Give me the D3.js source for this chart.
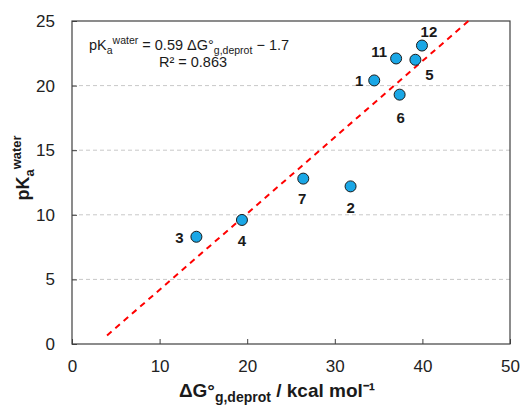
<!DOCTYPE html>
<html><head><meta charset="utf-8">
<script src="https://cdn.jsdelivr.net/npm/d3@7"></script>
<style>body{margin:0;background:#fff}svg{font-family:"Liberation Sans",Arial,sans-serif}</style>
</head><body><svg id="c" width="523" height="405"></svg>
<script>
const labels = ["1","2","3","4","5","6","7","11","12"];
const dG = [34.5, 31.8, 14.2, 19.4, 39.2, 37.4, 26.4, 37.0, 39.95];
const pKa = [20.4, 12.2, 8.3, 9.6, 22.0, 19.3, 12.8, 22.1, 23.1];
const xTicks = [0,10,20,30,40,50];
const yTicks = [0,5,10,15,20,25];
const fitSlope = 0.59, fitIntercept = -1.7, fitX = [4, 45.25];

const svg = d3.select("#c");
const L=72, R=510, T=21, B=344;
const x = d3.scaleLinear().domain([0,50]).range([L,R]);
const y = d3.scaleLinear().domain([0,25]).range([B,T]);

// grid
svg.append("g").selectAll("line").data(yTicks.filter(v=>v>0&&v<25)).join("line")
  .attr("x1",L).attr("x2",R).attr("y1",d=>y(d)).attr("y2",d=>y(d))
  .attr("stroke","#c8c8c8").attr("stroke-width",1).attr("stroke-dasharray","4,3");

// axes
const xa = svg.append("g").attr("transform",`translate(0,${B})`)
  .call(d3.axisBottom(x).tickValues(xTicks).tickSize(-5).tickPadding(16));
const ya = svg.append("g").attr("transform",`translate(${L},0)`)
  .call(d3.axisLeft(y).tickValues(yTicks).tickSize(-5).tickPadding(17));
[xa,ya].forEach(a=>{
  a.select(".domain").remove();
  a.selectAll("line").attr("stroke","#404040");
  a.selectAll("text").attr("font-size",17).attr("fill","#222").attr("font-family","Liberation Sans, Arial, sans-serif");
});
// frame
svg.append("rect").attr("x",L).attr("y",T).attr("width",R-L).attr("height",B-T)
  .attr("fill","none").attr("stroke","#404040").attr("stroke-width",1.2);

// fit line
svg.append("line")
  .attr("x1",x(fitX[0])).attr("y1",y(fitSlope*fitX[0]+fitIntercept))
  .attr("x2",x(fitX[1])).attr("y2",y(fitSlope*fitX[1]+fitIntercept))
  .attr("stroke","#ff0000").attr("stroke-width",2).attr("stroke-dasharray","6,5");

// points
const data = labels.map((l,i)=>({l, x:dG[i], y:pKa[i]}));
svg.append("g").selectAll("circle").data(data).join("circle")
  .attr("cx",d=>x(d.x)).attr("cy",d=>y(d.y)).attr("r",5.5)
  .attr("fill","#1aa7e6").attr("stroke","#1a1a1a").attr("stroke-width",1);

// point labels (pixel offsets)
const off = {"1":[-15,6],"2":[0,27],"3":[-17,6],"4":[0,26],"5":[14,20],"6":[1,28],"7":[-1,25],"11":[-17,-1],"12":[7,-9]};
svg.append("g").selectAll("text").data(data).join("text")
  .attr("x",d=>x(d.x)+off[d.l][0]).attr("y",d=>y(d.y)+off[d.l][1])
  .attr("text-anchor","middle").attr("font-size",15).attr("font-weight","bold").attr("fill","#1a1a1a")
  .text(d=>d.l);

// equation
const eq = svg.append("text").attr("x",89).attr("y",50).attr("font-size",14.5).attr("fill","#1a1a1a");
eq.append("tspan").text("pK");
eq.append("tspan").attr("font-size",10.5).attr("dy",4).text("a");
eq.append("tspan").attr("font-size",10.5).attr("dy",-10).text("water");
eq.append("tspan").attr("dy",6).text(" = 0.59 ΔG°");
eq.append("tspan").attr("font-size",10.5).attr("dy",4).text("g,deprot");
eq.append("tspan").attr("dy",-4).text(" − 1.7");
svg.append("text").attr("x",193).attr("y",67).attr("text-anchor","middle").attr("font-size",14.5)
  .attr("fill","#1a1a1a").text("R² = 0.863");

// x title
const xt = svg.append("text").attr("x",277).attr("y",397).attr("text-anchor","middle")
  .attr("font-size",19).attr("font-weight","bold").attr("fill","#1a1a1a");
xt.append("tspan").text("ΔG°");
xt.append("tspan").attr("font-size",14).attr("dy",5).text("g,deprot");
xt.append("tspan").attr("dy",-5).text(" / kcal mol⁻¹");

// y title
const yt = svg.append("text").attr("transform","translate(29,168) rotate(-90)").attr("text-anchor","middle")
  .attr("font-size",18).attr("font-weight","bold").attr("fill","#1a1a1a");
yt.append("tspan").text("pK");
yt.append("tspan").attr("font-size",13).attr("dy",5).text("a");
yt.append("tspan").attr("font-size",13).attr("dy",-13).text("water");
</script></body></html>
